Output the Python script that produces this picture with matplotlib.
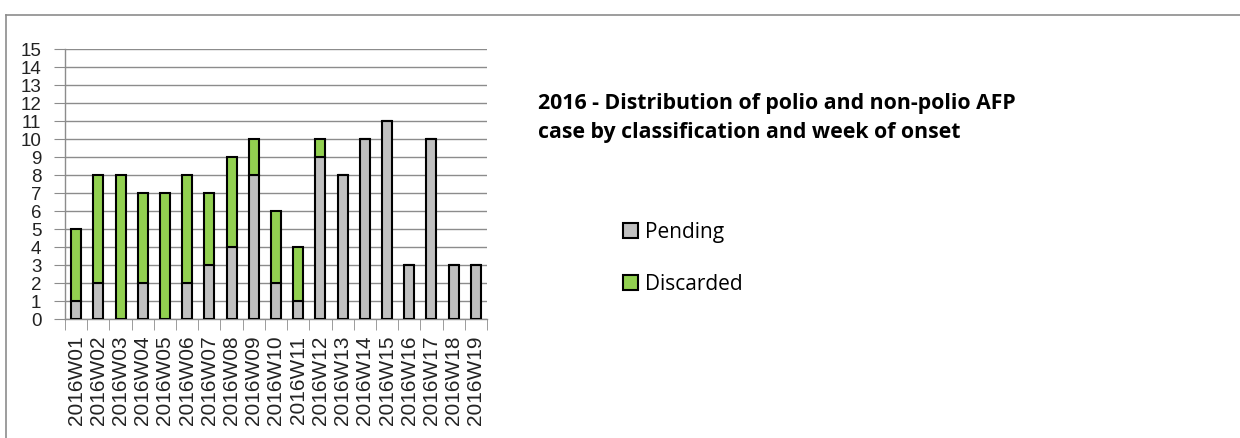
import numpy as np
import matplotlib
matplotlib.use('Agg')
import matplotlib.pyplot as plt
from matplotlib.lines import Line2D
from matplotlib.ticker import MultipleLocator, FixedLocator

weeks = ['2016W%02d' % i for i in range(1, 20)]
pending = [1, 2, 0, 2, 0, 2, 3, 4, 8, 2, 1, 9, 8, 10, 11, 3, 10, 3, 3]
discarded = [4, 6, 8, 5, 7, 6, 4, 5, 2, 4, 3, 1, 0, 0, 0, 0, 0, 0, 0]

W, H = 1240, 438
fig = plt.figure(figsize=(W / 100, H / 100), dpi=100)

# axes placed in pixels
ax = fig.add_axes([65 / W, 1 - 319 / H, 422 / W, 270 / H])

x = np.arange(len(weeks))
ax.bar(x, pending, width=0.45, color='#C0C0C0', edgecolor='black',
       linewidth=1.5, label='Pending', zorder=3)
ax.bar(x, discarded, width=0.45, bottom=pending, color='#92D050',
       edgecolor='black', linewidth=1.5, label='Discarded', zorder=3)

ax.set_xlim(-0.5, len(weeks) - 0.5)
ax.set_ylim(0, 15)
ax.yaxis.set_major_locator(MultipleLocator(1))
ax.grid(axis='y', color='#8c8c8c', linewidth=1, zorder=0)

for s in ['top', 'right']:
    ax.spines[s].set_visible(False)
for s in ['left', 'bottom']:
    ax.spines[s].set_color('#8c8c8c')
    ax.spines[s].set_linewidth(1)

ax.set_xticks(x)
ax.set_xticklabels(weeks, rotation=90, fontsize=15,
                   family='Liberation Sans', color='#222222')
ax.tick_params(axis='x', which='major', length=0, pad=12)
ax.xaxis.set_minor_locator(FixedLocator(np.arange(-0.5, len(weeks), 1)))
ax.tick_params(axis='x', which='minor', length=8, color='#8c8c8c')
ax.tick_params(axis='y', length=8, color='#8c8c8c', labelsize=13.5,
               labelcolor='#222222', pad=9)
for lab in ax.get_yticklabels():
    lab.set_family('Liberation Sans')

fig.text(538 / W, 1 - 93 / H,
         '2016 - Distribution of polio and non-polio AFP\n'
         'case by classification and week of onset',
         fontsize=15.3, fontweight='bold', family='Open Sans',
         va='top', ha='left', linespacing=1.5, color='black')

h, l = ax.get_legend_handles_labels()
fig.legend(h, l, loc='upper left', bbox_to_anchor=(604 / W, 1 - 203 / H),
           frameon=False, handlelength=0.75, handleheight=0.75,
           handletextpad=0.3, labelspacing=1.5,
           prop={'family': 'Open Sans', 'size': 15})

# outer chart border (top and left)
fig.add_artist(Line2D([6 / W, 1], [1 - 15 / H, 1 - 15 / H],
                      transform=fig.transFigure, color='#8c8c8c', lw=1.2))
fig.add_artist(Line2D([6 / W, 6 / W], [0, 1 - 15 / H],
                      transform=fig.transFigure, color='#8c8c8c', lw=1.2))

fig.savefig('out.png', dpi=100)
